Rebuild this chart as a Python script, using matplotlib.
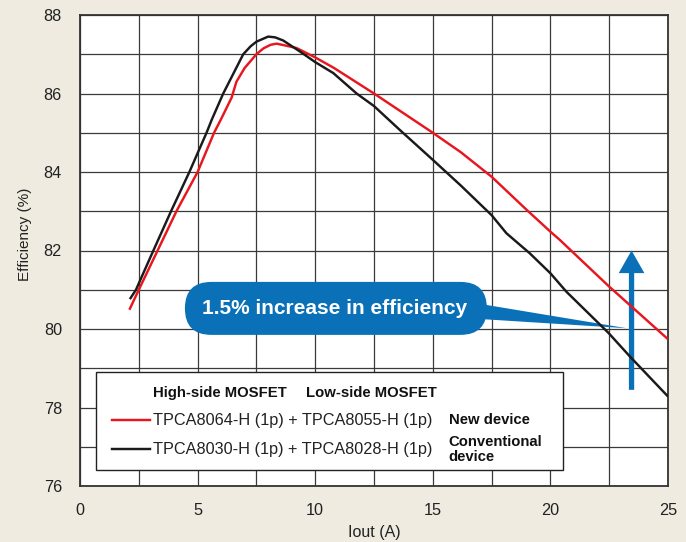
import matplotlib
matplotlib.use("Agg")
import matplotlib.pyplot as plt
from matplotlib.patches import FancyBboxPatch, Polygon, FancyArrow, Rectangle
from matplotlib.lines import Line2D

# ---------------- data ----------------
new_x = [2.1, 2.5, 3.3, 4.1, 5.0, 5.7, 6.0, 6.45, 6.65, 7.0, 7.5, 7.8, 8.1, 8.35, 8.6, 9.2,
         10.0, 10.8, 12.5, 15.0, 16.2, 17.5, 19.0, 20.0, 20.4, 22.5, 25.0]
new_y = [80.49, 81.0, 82.0, 83.0, 84.0, 85.0, 85.35, 85.9, 86.3, 86.65, 87.0, 87.15, 87.24, 87.27, 87.24, 87.16,
         86.92, 86.65, 86.0, 85.0, 84.5, 83.88, 83.03, 82.48, 82.27, 81.08, 79.74]

conv_x = [2.12, 2.38, 3.12, 3.87, 4.65, 5.38, 5.6, 6.09, 6.6, 6.94, 7.25, 7.5, 8.0, 8.3, 8.64, 9.35,
          10.0, 10.77, 11.76, 12.5, 13.6, 15.0, 16.2, 17.5, 18.13, 19.12, 20.0, 20.68, 22.47, 23.38, 25.0]
conv_y = [80.76, 81.0, 82.0, 83.0, 84.0, 85.0, 85.33, 86.0, 86.6, 87.0, 87.2, 87.32, 87.45, 87.43, 87.35, 87.07,
          86.8, 86.52, 86.0, 85.68, 85.07, 84.31, 83.65, 82.9, 82.44, 81.93, 81.42, 80.95, 79.9, 79.3, 78.28]

x_ticks = [0, 5, 10, 15, 20, 25]
y_ticks = [76, 78, 80, 82, 84, 86, 88]

header_high = "High-side MOSFET"
header_low = "Low-side MOSFET"
label_new = "TPCA8064-H (1p) + TPCA8055-H (1p)"
label_conv = "TPCA8030-H (1p) + TPCA8028-H (1p)"
tag_new = "New device"
tag_conv = "Conventional\ndevice"
callout_text = "1.5% increase in efficiency"

# ---------------- style ----------------
BG = "#efebe1"
BLUE = "#0a70b7"
RED = "#e8161e"
BLACK = "#1a1a1a"
GRID = "#3a3a3a"
REG = ["Liberation Sans", "DejaVu Sans"]
NARROW = ["Liberation Sans Narrow", "Liberation Sans", "DejaVu Sans"]

fig = plt.figure(figsize=(6.86, 5.42), dpi=100, facecolor=BG)
ax = fig.add_axes([80 / 686, 56 / 542, 588 / 686, 471 / 542])
ax.set_facecolor("white")
ax.set_xlim(0, 25)
ax.set_ylim(76, 88)

ax.set_xticks(x_ticks)
ax.set_xticks([2.5 * i for i in range(11)], minor=True)
ax.set_yticks(y_ticks)
ax.set_yticks(list(range(76, 89)), minor=True)
ax.set_xticklabels([str(v) for v in x_ticks], family=REG, fontsize=11.7, color="#222222")
ax.set_yticklabels([str(v) for v in y_ticks], family=REG, fontsize=11.7, color="#222222")
ax.tick_params(which="both", length=0)
ax.tick_params(axis="x", pad=12.5)
ax.tick_params(axis="y", pad=13)
ax.grid(which="both", color=GRID, linewidth=0.9)
ax.set_axisbelow(True)
for s in ax.spines.values():
    s.set_color("#333333")
    s.set_linewidth(1.3)

ax.set_xlabel("Iout (A)", family=REG, fontsize=11.5, color="#222222")
ax.xaxis.set_label_coords(0.5, -0.082)
ax.set_ylabel("Efficiency (%)", family=NARROW, fontsize=11, color="#222222")
ax.yaxis.set_label_coords(-0.081, 0.535)

# ---------------- callout ----------------
xpp = 25 / 588.0   # data units per pixel, x
ypp = 12 / 471.0   # data units per pixel, y
asp = ypp / xpp
pill_x0, pill_x1 = 4.46, 17.30
pill_y0, pill_y1 = 79.85, 81.20
mut_h = (pill_y1 - pill_y0) / asp
pill = FancyBboxPatch((pill_x0, pill_y0), pill_x1 - pill_x0, pill_y1 - pill_y0,
                      boxstyle=f"round,pad=0,rounding_size={mut_h / 2:.4f}",
                      mutation_aspect=asp, fc=BLUE, ec="none", zorder=3)
ax.add_patch(pill)
tail = Polygon([(16.6, 80.68), (23.24, 80.02), (16.6, 80.27)], closed=True,
               fc=BLUE, ec="none", zorder=3)
ax.add_patch(tail)
ax.text((pill_x0 + pill_x1) / 2 - 0.05, (pill_y0 + pill_y1) / 2, callout_text,
        family=REG, fontsize=15, fontweight="bold", color="white",
        ha="center", va="center", zorder=4)

arrow = FancyArrow(23.45, 78.45, 0, 3.55, width=0.225, head_width=1.09,
                   head_length=0.576, length_includes_head=True,
                   fc=BLUE, ec="none", zorder=3)
ax.add_patch(arrow)

# ---------------- curves ----------------
ax.plot(new_x, new_y, color=RED, lw=1.75, zorder=5, solid_capstyle="butt")
ax.plot(conv_x, conv_y, color=BLACK, lw=1.75, zorder=5, solid_capstyle="butt")

# ---------------- legend ----------------
box = Rectangle((0.0267, 0.034), 0.822 - 0.0267, 0.2427 - 0.034, transform=ax.transAxes,
                fc="white", ec="#222222", lw=1.0, zorder=6)
ax.add_patch(box)
ax.text(0.124, 0.1975, header_high, transform=ax.transAxes, family=REG, fontsize=10.7,
        fontweight="bold", color="#111111", va="center", ha="left", zorder=7)
ax.text(0.3839, 0.1975, header_low, transform=ax.transAxes, family=REG, fontsize=10.7,
        fontweight="bold", color="#111111", va="center", ha="left", zorder=7)
for yy, col, lab, tag, ty in [(0.140, RED, label_new, tag_new, 0.140),
                              (0.078, BLACK, label_conv, tag_conv, 0.077)]:
    ax.add_line(Line2D([0.054, 0.119], [yy, yy], transform=ax.transAxes, color=col,
                       lw=1.75, zorder=7))
    ax.text(0.1247, yy, lab, transform=ax.transAxes, family=REG, fontsize=11.7,
            color="#222222", va="center", ha="left", zorder=7)
    ax.text(0.627, ty, tag, transform=ax.transAxes, family=REG, fontsize=10.7,
            fontweight="bold", color="#111111", va="center", ha="left",
            linespacing=1.05, zorder=7)

fig.savefig("out.png", dpi=100, facecolor=BG)
